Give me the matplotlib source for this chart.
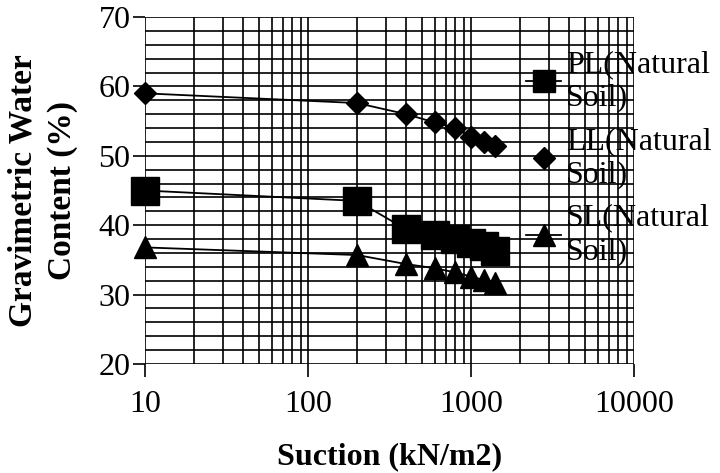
import matplotlib
matplotlib.use("Agg")
import matplotlib.pyplot as plt
from matplotlib.ticker import LogLocator, MultipleLocator, NullFormatter, FixedLocator

plt.rcParams['font.family'] = ['Liberation Serif', 'DejaVu Serif']

suction = [10, 200, 400, 600, 800, 1000, 1200, 1400]
pl_values = [45.0, 43.5, 39.4, 38.6, 38.0, 37.5, 37.0, 36.3]
ll_values = [59.0, 57.6, 56.0, 54.8, 54.0, 52.7, 52.0, 51.4]
sl_values = [36.8, 35.7, 34.4, 33.8, 33.2, 32.6, 32.1, 31.6]
labels = ['PL(Natural\nSoil)', 'LL(Natural\nSoil)', 'SL(Natural\nSoil)']
x_ticks = [10, 100, 1000, 10000]
x_ticklabels = ['10', '100', '1000', '10000']
y_ticks = [20, 30, 40, 50, 60, 70]

W, H = 720, 473
fig = plt.figure(figsize=(W / 100, H / 100), dpi=100)
ax = fig.add_axes([145 / W, 1 - 364 / H, (634 - 145) / W, (364 - 17) / H])

ax.set_xscale('log')
ax.set_xlim(10, 10000)
ax.set_ylim(20, 70)

FS = 23
lw_line = 1.3
l1, = ax.plot(suction, pl_values, color='black', lw=lw_line, marker='s', ms=20,
              label=labels[0], zorder=3, clip_on=False)
l2, = ax.plot(suction, ll_values, color='black', lw=lw_line, marker='D', ms=11.5,
              label=labels[1], zorder=3, clip_on=False)
l3, = ax.plot(suction, sl_values, color='black', lw=lw_line, marker='^', ms=16,
              label=labels[2], zorder=3, clip_on=False)

ax.xaxis.set_major_locator(FixedLocator(x_ticks))
ax.set_xticklabels(x_ticklabels)
ax.xaxis.set_minor_locator(LogLocator(base=10, subs=range(2, 10)))
ax.xaxis.set_minor_formatter(NullFormatter())
ax.yaxis.set_major_locator(FixedLocator(y_ticks))
ax.yaxis.set_minor_locator(MultipleLocator(2))

ax.grid(True, which='both', color='black', lw=1.2)
ax.set_axisbelow(True)
for s in ax.spines.values():
    s.set_visible(False)

ax.tick_params(axis='x', which='major', direction='out', length=9, width=1.2,
               pad=9.5, labelsize=FS, color='black')
ax.tick_params(axis='y', which='major', direction='out', length=8.5, width=1.2,
               pad=2, labelsize=FS, color='black')
ax.tick_params(which='minor', length=0)

leg = ax.legend(handles=[l1, l2, l3], loc='upper left',
                bbox_to_anchor=(526 / W, 1 - 50 / H), bbox_transform=fig.transFigure,
                frameon=False, fontsize=FS, handlelength=1.1, handletextpad=0.15,
                labelspacing=0.45, borderpad=0, borderaxespad=0)
hs = leg.legend_handles
hs[0].set_markersize(16)
hs[1].set_linestyle('none')

fig.text(43 / W, 1 - 190.5 / H, 'Gravimetric Water\nContent (%)',
         rotation=90, ha='center', va='center', multialignment='center',
         fontsize=24, fontweight='bold', linespacing=1.35)
fig.text(389.5 / W, 1 - 464 / H, 'Suction (kN/m2)', ha='center', va='baseline',
         fontsize=FS, fontweight='bold')

fig.savefig('out.png', dpi=100)
